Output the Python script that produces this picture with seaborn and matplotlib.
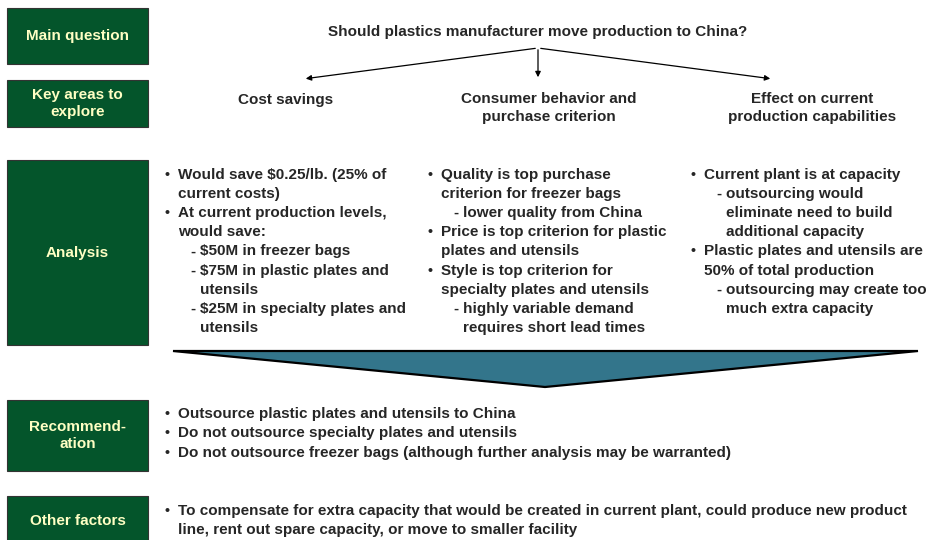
import seaborn as sns
import matplotlib.pyplot as plt
from matplotlib.patches import Rectangle, Polygon

sns.set_theme(style='white')
plt.rcParams['font.family'] = ['Liberation Sans', 'DejaVu Sans']

# left hand labels (text, top, bottom)
box_labels = ['Main question', 'Key areas to\nexplore', 'Analysis', 'Recommend-\nation', 'Other factors']
box_top = [8, 80, 160, 400, 496]
box_bottom = [64, 127, 345, 471, 548]

question = 'Should plastics manufacturer move production to China?'
key_areas = ['Cost savings', 'Consumer behavior and\npurchase criterion', 'Effect on current\nproduction capabilities']
key_x = [286, 549, 812]

# analysis columns: (level, text) level 0 = bullet, 1 = continuation, 2 = dash, 3 = dash continuation
col_cost = [(0, 'Would save $0.25/lb. (25% of'), (1, 'current costs)'),
            (0, 'At current production levels,'), (1, 'would save:'),
            (2, '$50M in freezer bags'), (2, '$75M in plastic plates and'), (3, 'utensils'),
            (2, '$25M in specialty plates and'), (3, 'utensils')]
col_consumer = [(0, 'Quality is top purchase'), (1, 'criterion for freezer bags'),
                (2, 'lower quality from China'),
                (0, 'Price is top criterion for plastic'), (1, 'plates and utensils'),
                (0, 'Style is top criterion for'), (1, 'specialty plates and utensils'),
                (2, 'highly variable demand'), (3, 'requires short lead times')]
col_effect = [(0, 'Current plant is at capacity'),
              (2, 'outsourcing would'), (3, 'eliminate need to build'), (3, 'additional capacity'),
              (0, 'Plastic plates and utensils are'), (1, '50% of total production'),
              (2, 'outsourcing may create too'), (3, 'much extra capacity')]
col_x = [165, 428, 691]

recommendation = [(0, 'Outsource plastic plates and utensils to China'),
                  (0, 'Do not outsource specialty plates and utensils'),
                  (0, 'Do not outsource freezer bags (although further analysis may be warranted)')]
other_factors = [(0, 'To compensate for extra capacity that would be created in current plant, could produce new product'),
                 (1, 'line, rent out spare capacity, or move to smaller facility')]

GREEN = '#04552B'
LABEL = '#FFFFC4'
TEAL = '#33758B'
FS = 11

fig = plt.figure(figsize=(9.27, 5.40), dpi=100)
ax = fig.add_axes([0, 0, 1, 1])
ax.set_xlim(0, 927)
ax.set_ylim(540, 0)
ax.axis('off')

for lab, t, b in zip(box_labels, box_top, box_bottom):
    ax.add_patch(Rectangle((7, t), 141, b - t, facecolor=GREEN, edgecolor='#333333', lw=0.8))
    yc = (t + b) / 2 if lab != 'Other factors' else 521
    ax.text(77.5, yc, lab, ha='center', va='center', color=LABEL, fontsize=FS,
            fontweight='bold', linespacing=1.35)

ax.text(538, 32, question, ha='center', va='center', fontsize=FS, fontweight='bold')
for txt, x in zip(key_areas, key_x):
    ax.text(x, 108 if '\n' in txt else 100, txt, ha='center', va='center', fontsize=FS,
            fontweight='bold', linespacing=1.3)

# connector arrows
arrow = dict(arrowstyle='-|>', color='black', lw=0.9, mutation_scale=8)
ax.annotate('', xy=(538, 80), xytext=(538, 47), arrowprops=arrow)
ax.annotate('', xy=(303, 79), xytext=(538, 48), arrowprops=arrow)
ax.annotate('', xy=(773, 79), xytext=(538, 48), arrowprops=arrow)


def draw_lines(lines, x0, y0, step):
    offs = {0: 13, 1: 13, 2: 35, 3: 35}
    for i, (lvl, txt) in enumerate(lines):
        y = y0 + i * step
        if lvl == 0:
            ax.text(x0, y, '\u2022', ha='left', va='center', fontsize=FS - 1, fontweight='bold')
        if lvl == 2:
            ax.text(x0 + 25, y, '-', ha='left', va='center', fontsize=FS, fontweight='bold')
        ax.text(x0 + offs[lvl], y, txt, ha='left', va='center', fontsize=FS, fontweight='bold')


for col, x in zip([col_cost, col_consumer, col_effect], col_x):
    draw_lines(col, x, 175, 19.1)

# big chevron
ax.add_patch(Polygon([(173, 351), (918, 351), (545, 387)], closed=True,
                     facecolor=TEAL, edgecolor='black', lw=1.6, joinstyle='miter'))

draw_lines(recommendation, 165, 414, 19.5)
draw_lines(other_factors, 165, 511, 19)

fig.savefig('out.png', dpi=100)
